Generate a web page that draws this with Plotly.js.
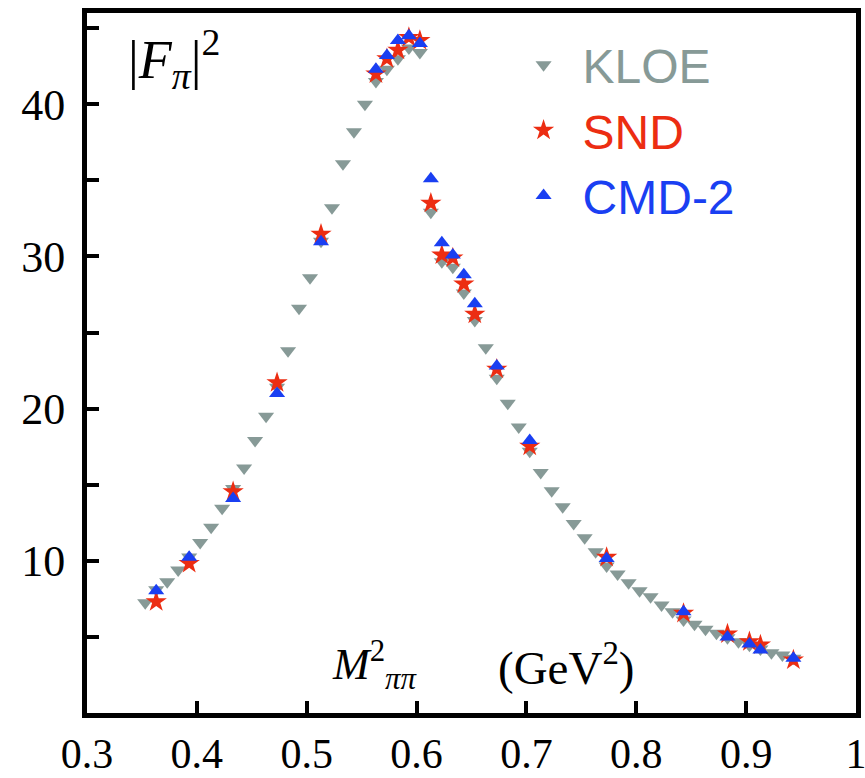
<!DOCTYPE html>
<html>
<head>
<meta charset="utf-8">
<script src="https://cdn.plot.ly/plotly-3.0.1.min.js"></script>
<style>
  html, body { margin: 0; padding: 0; background: #ffffff; }
  #chart { width: 865px; height: 778px; }
</style>
</head>
<body>
<div id="chart"></div>
<script>
// ---- data ----
const kloeX = [0.353,0.363,0.373,0.383,0.393,0.403,0.413,0.423,0.433,0.443,
               0.453,0.463,0.473,0.483,0.493,0.503,0.513,0.523,0.533,0.543,
               0.553,0.563,0.573,0.583,0.593,0.603,0.613,0.623,0.633,0.643,
               0.653,0.663,0.673,0.683,0.693,0.703,0.713,0.723,0.733,0.743,
               0.753,0.763,0.773,0.783,0.793,0.803,0.813,0.823,0.833,0.843,
               0.853,0.863,0.873,0.883,0.893,0.903,0.913,0.923,0.933,0.943];
const kloeY = [7.25,8.1,8.63,9.40,10.25,11.2,12.2,13.45,14.76,16.1,
               17.9,19.5,21.4,23.8,26.6,28.6,31.0,33.2,36.1,38.2,
               40.0,41.5,42.3,43.0,43.7,43.4,32.9,29.65,29.3,27.6,
               25.8,24.0,22.0,20.35,18.8,17.2,15.8,14.6,13.55,12.46,
               11.52,10.6,9.66,9.13,8.56,8.04,7.64,7.1,6.66,6.11,
               5.83,5.5,5.24,4.95,4.69,4.45,4.2,3.96,3.81,3.6];

const sndX = [0.363,0.393,0.433,0.473,0.513,0.563,0.573,0.583,0.593,0.603,
              0.613,0.623,0.633,0.643,0.653,0.673,0.703,0.773,0.843,0.883,
              0.903,0.913,0.943];
const sndY = [7.31,9.83,14.54,21.7,31.47,42.0,43.0,43.56,44.4,44.2,
              33.5,30.1,29.9,28.2,26.2,22.6,17.54,10.23,6.55,5.19,
              4.69,4.47,3.48];

const cmdX = [0.363,0.393,0.433,0.473,0.513,0.563,0.573,0.583,0.593,0.603,
              0.613,0.623,0.633,0.643,0.653,0.673,0.703,0.773,0.843,0.883,
              0.903,0.913,0.943];
const cmdY = [8.04,10.23,14.1,21.0,30.97,42.3,43.2,44.2,44.5,44.0,
              35.1,30.9,30.1,28.8,26.9,22.8,17.9,10.16,6.66,5.0,
              4.53,4.14,3.59];

const seriesNames = ['KLOE', 'SND', 'CMD-2'];
const xTickVals = [0.3,0.4,0.5,0.6,0.7,0.8,0.9,1.0];
const xTickText = ['0.3','0.4','0.5','0.6','0.7','0.8','0.9','1'];
const yTickVals = [10,20,30,40];
const yTickText = ['10','20','30','40'];
const yMinorVals = [5,15,25,35,45];

// ---- style ----
const cGray = '#879a97';
const cRed  = '#ec2d12';
const cBlue = '#1a3ff2';
const serif = 'Liberation Serif, Times New Roman, serif';
const sans  = 'Liberation Sans, Arial, sans-serif';

const traces = [
  { x: kloeX, y: kloeY, type: 'scatter', mode: 'markers',
    name: "<span style='color:" + cGray + "'>" + seriesNames[0] + "</span>",
    marker: { symbol: 'triangle-down', size: 14, color: cGray } },
  { x: sndX, y: sndY, type: 'scatter', mode: 'markers',
    name: "<span style='color:" + cRed + "'>" + seriesNames[1] + "</span>",
    marker: { symbol: 'star', size: 16, color: cRed } },
  { x: cmdX, y: cmdY, type: 'scatter', mode: 'markers',
    name: "<span style='color:" + cBlue + "'>" + seriesNames[2] + "</span>",
    marker: { symbol: 'triangle-up', size: 14, color: cBlue } }
];

const layout = {
  width: 865, height: 778,
  margin: { l: 87, r: 9, t: 13, b: 65 },
  paper_bgcolor: '#ffffff', plot_bgcolor: '#ffffff',
  showlegend: true,
  legend: {
    x: 0.543, y: 0.98, xanchor: 'left', yanchor: 'top',
    font: { family: sans, size: 48 },
    bgcolor: 'rgba(0,0,0,0)', borderwidth: 0,
    tracegroupgap: 0, itemwidth: 68
  },
  xaxis: {
    range: [0.3, 1.0],
    tickmode: 'array', tickvals: xTickVals, ticktext: xTickText,
    ticks: 'inside', ticklen: 12, tickwidth: 4, tickcolor: '#000',
    showline: true, linecolor: '#000', linewidth: 5, mirror: true,
    showgrid: false, zeroline: false,
    ticklabeloverflow: 'allow',
    tickfont: { family: serif, size: 42, color: '#000' }
  },
  yaxis: {
    range: [0, 46],
    tickmode: 'array', tickvals: yTickVals, ticktext: yTickText,
    ticks: 'inside', ticklen: 12, tickwidth: 4, tickcolor: '#000',
    minor: { tickmode: 'array', tickvals: yMinorVals, ticks: 'inside',
             ticklen: 12, tickwidth: 4, tickcolor: '#000', showgrid: false },
    showline: true, linecolor: '#000', linewidth: 5, mirror: true,
    showgrid: false, zeroline: false,
    ticklabelstandoff: 8,
    tickfont: { family: serif, size: 44, color: '#000' }
  },
  annotations: [
    { xref: 'paper', yref: 'paper', x: 0.113, y: 0.934,
      xanchor: 'center', yanchor: 'middle', showarrow: false,
      text: '|<i>F</i><sub><i>π</i></sub>|<sup>2</sup>',
      font: { family: serif, size: 54, color: '#000' } },
    { xref: 'paper', yref: 'paper', x: 0.374, y: 0.068,
      xanchor: 'center', yanchor: 'middle', showarrow: false,
      text: '<i>M</i><sup>2</sup><sub><i>ππ</i></sub>',
      font: { family: serif, size: 44, color: '#000' } },
    { xref: 'paper', yref: 'paper', x: 0.623, y: 0.07,
      xanchor: 'center', yanchor: 'middle', showarrow: false,
      text: '(GeV<sup>2</sup>)',
      font: { family: serif, size: 47, color: '#000' } }
  ]
};

Plotly.newPlot('chart', traces, layout, { staticPlot: true, displayModeBar: false });
</script>
</body>
</html>
